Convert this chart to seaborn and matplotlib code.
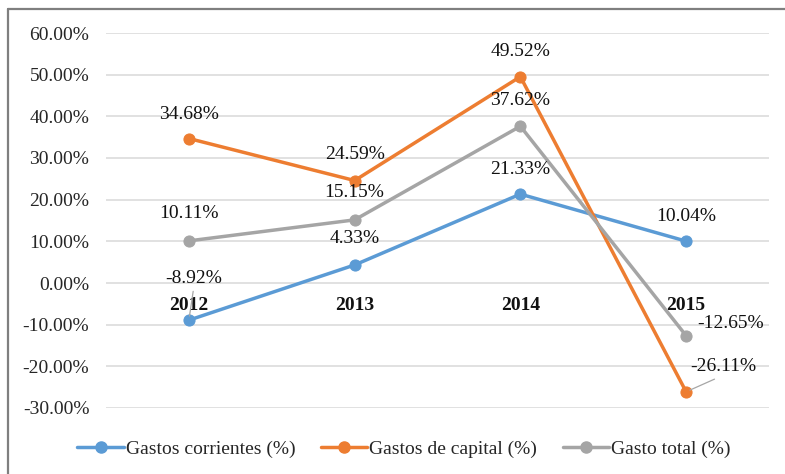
import pandas as pd
import seaborn as sns
import matplotlib
matplotlib.use("Agg")
import matplotlib.pyplot as plt
from matplotlib.lines import Line2D
from matplotlib.ticker import FuncFormatter

anios = ["2012", "2013", "2014", "2015"]
gastos_corrientes = [-8.92, 4.33, 21.33, 10.04]
gastos_capital = [34.68, 24.59, 49.52, -26.11]
gasto_total = [10.11, 15.15, 37.62, -12.65]
series = ["Gastos corrientes (%)", "Gastos de capital (%)", "Gasto total (%)"]
colores = ["#5B9BD5", "#ED7D31", "#A5A5A5"]

# label offsets in pixels (dx, dy) and whether a leader line is drawn
offsets = {
    series[0]: [(5, 42, True), (0, 26, False), (0, 25, False), (0, 25, False)],
    series[1]: [(0, 24, False), (0, 26, False), (0, 25, False), (37, 25, True)],
    series[2]: [(0, 27, False), (0, 27, False), (0, 26, False), (44, 12, False)],
}

df = pd.DataFrame({
    "anio": anios * 3,
    "valor": gastos_corrientes + gastos_capital + gasto_total,
    "serie": [s for s in series for _ in anios],
})

sns.set_style("white")
plt.rcParams["font.family"] = ["Liberation Serif", "DejaVu Serif"]

fig = plt.figure(figsize=(7.85, 4.74), dpi=100)
ax = fig.add_axes([106 / 785, 1 - 408 / 474, 663 / 785, 375 / 474])

palette = dict(zip(series, colores))
sns.lineplot(data=df, x="anio", y="valor", hue="serie", hue_order=series,
             palette=palette, marker="o", markersize=8, linewidth=2.5,
             sort=False, ax=ax, legend=False, zorder=3)
for line, c in zip(ax.lines, colores):
    line.set_markeredgecolor(c)
    line.set_markerfacecolor(c)

ax.set_xlim(-0.5, len(anios) - 0.5)
ax.set_ylim(-30, 60)
ax.set_yticks(range(-30, 61, 10))
ax.yaxis.set_major_formatter(FuncFormatter(lambda v, p: f"{v:.2f}%"))
ax.tick_params(axis="y", labelsize=14, length=0, pad=12, colors="#262626")
ax.set_xticks([])
ax.set_xlabel("")
ax.set_ylabel("")
for s in ax.spines.values():
    s.set_visible(False)
ax.grid(axis="y", color="#D9D9D9", linewidth=1.1)
ax.set_axisbelow(True)

# category labels sitting under the zero line
for i, a in enumerate(anios):
    ax.annotate(a, (i, 0), xytext=(0, -23), textcoords="offset pixels",
                ha="center", va="center", fontsize=14, fontweight="bold",
                color="#111111", zorder=2)

valores = dict(zip(series, [gastos_corrientes, gastos_capital, gasto_total]))
for s in series:
    for i, v in enumerate(valores[s]):
        dx, dy, leader = offsets[s][i]
        kw = {}
        if leader:
            kw["arrowprops"] = dict(arrowstyle="-", color="#A6A6A6", lw=0.9,
                                    shrinkA=1, shrinkB=3, relpos=(0.5, 0.0))
        ax.annotate(f"{v:.2f}%", (i, v), xytext=(dx, dy),
                    textcoords="offset pixels", ha="center", va="center",
                    fontsize=14, color="#111111", zorder=4, **kw)

handles = [Line2D([], [], color=c, lw=2.5, marker="o", markersize=8)
           for c in colores]
fig.legend(handles, series, loc="center", bbox_to_anchor=(404 / 785, 1 - 449 / 474),
           ncol=3, frameon=False, fontsize=14, handlelength=2.4,
           handletextpad=0.1, columnspacing=1.3)

# outer chart frame (left and top edges visible)
fig.add_artist(Line2D([8 / 785, 8 / 785], [0, 1 - 9 / 474], color="#7F7F7F",
                      lw=1.6, transform=fig.transFigure))
fig.add_artist(Line2D([8 / 785, 1], [1 - 9 / 474, 1 - 9 / 474], color="#7F7F7F",
                      lw=1.6, transform=fig.transFigure))

fig.savefig("out.png", dpi=100)
